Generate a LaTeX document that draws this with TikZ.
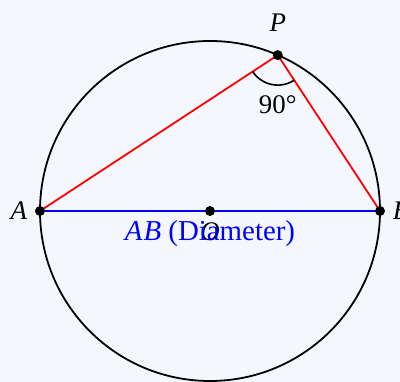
\documentclass[tikz,border=0pt]{standalone}
\usepackage{fontspec}
\setmainfont{Liberation Serif}
\usepackage{tikz}
\usetikzlibrary{calc,positioning,angles}
\definecolor{paleback}{RGB}{244,248,254}

\begin{document}
\begin{tikzpicture}[
  x=0.017647cm, y=0.017647cm,
  dot/.style={circle, fill=black, inner sep=0pt, minimum size=5pt},
  lbl/.style={inner sep=0pt, font=\fontsize{13.5}{15}\selectfont},
  chord/.style={red, line width=0.9pt},
  diam/.style={blue, line width=0.9pt}
]

% Frame
\fill[paleback] (-210,-171) rectangle (190,211);
\useasboundingbox (-210,-171) rectangle (190,211);

% Points
\coordinate (O) at (0,0);
\coordinate (A) at (180:170);
\coordinate (B) at (0:170);
\coordinate (P) at (66.5:170);

% Circle and lines
\draw[line width=0.9pt] (O) circle (170);
\draw[diam] (A) -- (B);
\draw[chord] (A) -- (P) -- (B);
\pic[draw, line width=0.8pt, angle radius=0.53cm] {angle = A--P--B};

% Dots
\node[dot] (dA) at (A) {};
\node[dot] (dB) at (B) {};
\node[dot] (dO) at (O) {};
\node[dot] (dP) at (P) {};

% Labels
\node[lbl] (lP) at ($(P)+(0,32)$) {\textit{P}};
\node[lbl] (lA) at ($(A)+(-21,0)$) {\textit{A}};
\node[lbl] (lB) at ($(B)+(21,0)$) {\textit{B}};
\node[lbl] (lO) at ($(O)+(0,-21)$) {\textit{O}};
\node[lbl, blue, font=\fontsize{14.5}{16}\selectfont] (ldiam) at ($(O)+(0,-23)$) {\textit{A\kern0.5pt B} (Diameter)};
\node[lbl] (lang) at ($(P)+(0,-50)$) {90°};

\end{tikzpicture}
\end{document}
